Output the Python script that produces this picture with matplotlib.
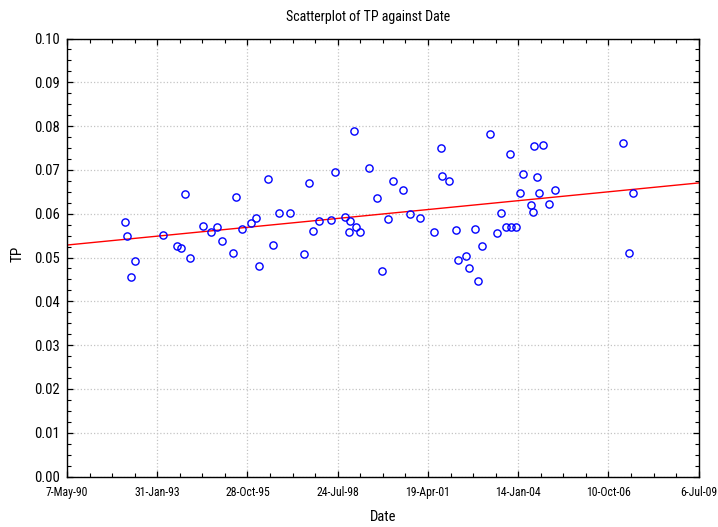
import numpy as np
import pandas as pd
import matplotlib
matplotlib.use("Agg")
import matplotlib.pyplot as plt
import matplotlib.dates as mdates
from matplotlib.ticker import FixedLocator, AutoMinorLocator, MultipleLocator, FormatStrFormatter

plt.rcParams['font.family'] = ['Roboto Condensed', 'DejaVu Sans']

dates = [
    "1992-02-05", "1992-03-02", "1992-05-27", "1992-04-16", "1993-04-02",
    "1993-09-04", "1993-10-19", "1993-12-05", "1994-01-29", "1994-06-25",
    "1994-09-19", "1994-11-27", "1995-01-22", "1995-05-24", "1995-06-26",
    "1995-08-25", "1995-12-02", "1996-01-27", "1996-03-03", "1996-06-15",
    "1996-08-07", "1996-10-12", "1997-02-14", "1997-07-12", "1997-09-09",
    "1997-10-24", "1997-12-29", "1998-05-15", "1998-06-21", "1998-10-09",
    "1998-11-29", "1998-12-10", "1999-01-17", "1999-02-15", "1999-03-31",
    "1999-07-02", "1999-10-01", "1999-11-23", "2000-01-29", "2000-03-25",
    "2000-07-14", "2000-10-03", "2001-01-21", "2001-06-25", "2001-09-11",
    "2001-09-25", "2001-12-03", "2002-02-24", "2002-03-13", "2002-06-15",
    "2002-07-14", "2002-09-23", "2002-10-26", "2002-12-12", "2003-03-04",
    "2003-05-27", "2003-07-11", "2003-08-28", "2003-10-19", "2003-10-26",
    "2003-12-24", "2004-02-06", "2004-03-07", "2004-06-01", "2004-06-26",
    "2004-07-10", "2004-08-10", "2004-09-04", "2004-10-16", "2004-12-18",
    "2005-02-28", "2007-03-17", "2007-05-29", "2007-07-06",
]
tp = [
    0.0582, 0.0549, 0.0493, 0.0456, 0.0551,
    0.0527, 0.0522, 0.0645, 0.0500, 0.0572,
    0.0559, 0.0570, 0.0538, 0.0511, 0.0638,
    0.0566, 0.0579, 0.0591, 0.0481, 0.0679,
    0.0529, 0.0602, 0.0602, 0.0509, 0.0670,
    0.0561, 0.0583, 0.0586, 0.0695, 0.0592,
    0.0558, 0.0583, 0.0790, 0.0569, 0.0558,
    0.0704, 0.0636, 0.0470, 0.0588, 0.0675,
    0.0654, 0.0599, 0.0591, 0.0559, 0.0749,
    0.0686, 0.0675, 0.0563, 0.0495, 0.0504,
    0.0477, 0.0566, 0.0447, 0.0527, 0.0782,
    0.0556, 0.0602, 0.0570, 0.0736, 0.0570,
    0.0570, 0.0647, 0.0691, 0.0621, 0.0604,
    0.0755, 0.0684, 0.0647, 0.0758, 0.0622,
    0.0654, 0.0761, 0.0510, 0.0647,
]
tick_dates = ["1990-05-07", "1993-01-31", "1995-10-28", "1998-07-24",
              "2001-04-19", "2004-01-14", "2006-10-10", "2009-07-06"]
tick_labels = ["7-May-90", "31-Jan-93", "28-Oct-95", "24-Jul-98",
               "19-Apr-01", "14-Jan-04", "10-Oct-06", "6-Jul-09"]

x = mdates.date2num(pd.to_datetime(dates))
y = np.array(tp)
ticks = mdates.date2num(pd.to_datetime(tick_dates))

fig = plt.figure(figsize=(7.18, 5.27), dpi=100)
ax = fig.add_axes([0.0933, 0.0958, 0.9731 - 0.0933, 0.9269 - 0.0958])

# least-squares trend line across the full date range
slope, intercept = np.polyfit(x, y, 1)
xl = np.array([ticks[0], ticks[-1]])
ax.plot(xl, intercept + slope * xl, color='red', lw=1.0, zorder=2)

ax.plot(x, y, linestyle='none', marker='o', markersize=5.2,
        markerfacecolor='none', markeredgecolor='#0000ff',
        markeredgewidth=1.0, zorder=3)

ax.set_xlim(ticks[0], ticks[-1])
ax.set_ylim(0, 0.10)
ax.xaxis.set_major_locator(FixedLocator(ticks))
ax.set_xticklabels(tick_labels)
ax.xaxis.set_minor_locator(AutoMinorLocator(4))
ax.yaxis.set_major_locator(MultipleLocator(0.01))
ax.yaxis.set_minor_locator(AutoMinorLocator(4))
ax.yaxis.set_major_formatter(FormatStrFormatter('%.2f'))

ax.grid(True, which='major', color='#c4c4c4', linestyle=':', linewidth=0.9)
ax.tick_params(which='both', direction='in', top=True, right=True, color='black')
ax.tick_params(which='major', length=4, width=0.9)
ax.tick_params(which='minor', length=3, width=0.8)
ax.tick_params(axis='x', labelsize=8.5, pad=7)
ax.tick_params(axis='y', labelsize=10.5, pad=5)
for s in ax.spines.values():
    s.set_linewidth(1.0)

fig.text(0.512, 1 - 20.7 / 527, "Scatterplot of TP against Date",
         ha='center', va='baseline', fontsize=10)
ax.set_xlabel("Date", fontsize=10.5, va='center')
ax.xaxis.set_label_coords(0.5, -0.0925)
ax.set_ylabel("TP", fontsize=11, va='center', ha='center')
ax.yaxis.set_label_coords(-0.0776, 0.508)

fig.savefig("out.png", dpi=100)
